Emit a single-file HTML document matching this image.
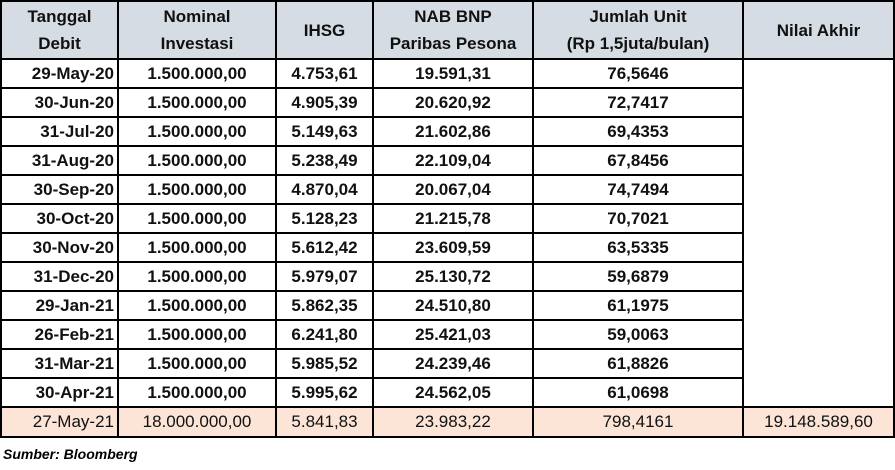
<!DOCTYPE html>
<html><head><meta charset="utf-8"><style>
body{margin:0;background:#fff;width:895px;height:470px;overflow:hidden;font-family:"Liberation Sans",sans-serif;}
table{position:absolute;left:0;top:0;border-collapse:collapse;table-layout:fixed;}
td{border:2px solid #000;padding:0 3px;font-weight:bold;font-size:17px;text-align:center;height:27px;color:#111;white-space:nowrap;}
tr.h td{background:#D6DCE4;height:56px;line-height:27px;}
td.d{text-align:right;}
tr.t td{background:#FCE4D6;font-weight:normal;height:28px;}
.src{position:absolute;left:3px;top:446px;font-style:italic;font-weight:bold;font-size:14px;}
</style></head><body>
<table>
<colgroup><col style="width:117px"><col style="width:158px"><col style="width:97px"><col style="width:160px"><col style="width:210px"><col style="width:151px"></colgroup>
<tr class="h"><td>Tanggal<br>Debit</td><td>Nominal<br>Investasi</td><td>IHSG</td><td>NAB BNP<br>Paribas Pesona</td><td>Jumlah Unit<br>(Rp 1,5juta/bulan)</td><td>Nilai Akhir</td></tr>
<tr><td class="d">29-May-20</td><td>1.500.000,00</td><td>4.753,61</td><td>19.591,31</td><td>76,5646</td><td rowspan="12"></td></tr>
<tr><td class="d">30-Jun-20</td><td>1.500.000,00</td><td>4.905,39</td><td>20.620,92</td><td>72,7417</td></tr>
<tr><td class="d">31-Jul-20</td><td>1.500.000,00</td><td>5.149,63</td><td>21.602,86</td><td>69,4353</td></tr>
<tr><td class="d">31-Aug-20</td><td>1.500.000,00</td><td>5.238,49</td><td>22.109,04</td><td>67,8456</td></tr>
<tr><td class="d">30-Sep-20</td><td>1.500.000,00</td><td>4.870,04</td><td>20.067,04</td><td>74,7494</td></tr>
<tr><td class="d">30-Oct-20</td><td>1.500.000,00</td><td>5.128,23</td><td>21.215,78</td><td>70,7021</td></tr>
<tr><td class="d">30-Nov-20</td><td>1.500.000,00</td><td>5.612,42</td><td>23.609,59</td><td>63,5335</td></tr>
<tr><td class="d">31-Dec-20</td><td>1.500.000,00</td><td>5.979,07</td><td>25.130,72</td><td>59,6879</td></tr>
<tr><td class="d">29-Jan-21</td><td>1.500.000,00</td><td>5.862,35</td><td>24.510,80</td><td>61,1975</td></tr>
<tr><td class="d">26-Feb-21</td><td>1.500.000,00</td><td>6.241,80</td><td>25.421,03</td><td>59,0063</td></tr>
<tr><td class="d">31-Mar-21</td><td>1.500.000,00</td><td>5.985,52</td><td>24.239,46</td><td>61,8826</td></tr>
<tr><td class="d">30-Apr-21</td><td>1.500.000,00</td><td>5.995,62</td><td>24.562,05</td><td>61,0698</td></tr>
<tr class="t"><td class="d">27-May-21</td><td>18.000.000,00</td><td>5.841,83</td><td>23.983,22</td><td>798,4161</td><td>19.148.589,60</td></tr>
</table>
<div class="src">Sumber: Bloomberg</div>
</body></html>
